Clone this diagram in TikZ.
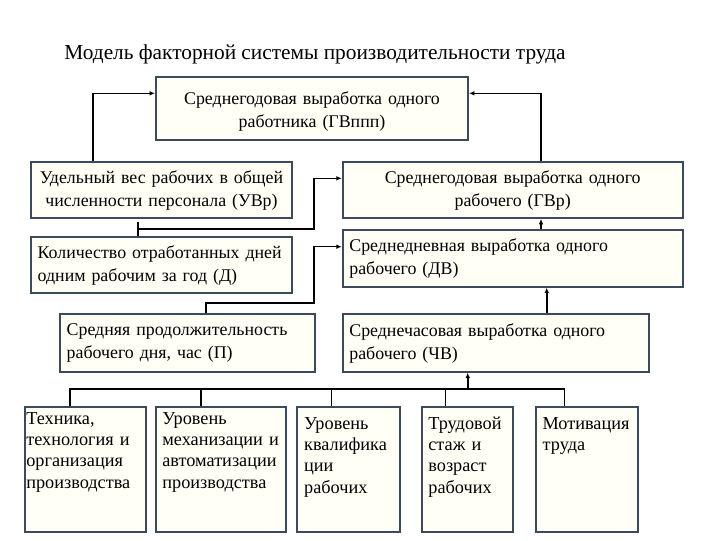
\documentclass[tikz,border=0pt]{standalone}
\usepackage{fontspec}
\setmainfont{LiberationSerif}[Extension=.ttf, UprightFont=*-Regular, BoldFont=*-Bold]
\usetikzlibrary{arrows.meta,calc}
\definecolor{boxline}{RGB}{59,75,92}
\definecolor{boxfill}{RGB}{255,255,246}
\begin{document}
\begin{tikzpicture}[x=0.75pt, y=-0.75pt, >={Latex[length=4pt,width=3.5pt]},
  box/.style={draw=boxline, fill=boxfill, line width=1.5pt, inner xsep=5pt, inner ysep=2pt, font=\fontsize{13.4}{17.25}\selectfont},
  factor/.style={box, anchor=north, align=left, inner ysep=3pt, text height=10pt, text depth=78pt, font=\fontsize{13.7}{16.1}\selectfont},
  link/.style={line width=1pt},
  main link/.style={line width=1.5pt}]
\useasboundingbox (0,0) rectangle (720,540);
\node at (315, 54) (title) {\fontsize{16}{22}\selectfont Модель факторной системы производительности труда};
\node[box, text width=224pt, align=center, minimum height=47.5pt, text height=14pt] at (312, 108.3) (gvppp) {Среднегодовая выработка одного\\работника (ГВппп)};
\node[box, text width=185.75pt, align=center, minimum height=42.2pt, text height=11pt] at (161.5, 189.8) (uvr) {Удельный вес рабочих в общей\\численности персонала (УВр)};
\node[box, text width=245pt, align=center, minimum height=42.2pt, text height=11pt] at (512.7, 189.8) (gvr) {Среднегодовая выработка одного\\рабочего (ГВр)};
\node[box, text width=185.75pt, align=left, minimum height=42pt] at (161.5, 265) (days) {Количество отработанных дней\\одним рабочим за год (Д)};
\node[box, text width=245pt, align=left, minimum height=42.5pt] at (512.7, 258.3) (dv) {Среднедневная выработка одного\\рабочего (ДВ)};
\node[box, text width=181.25pt, align=left, minimum height=43pt] at (187.5, 343) (hours) {Средняя продолжительность\\рабочего дня, час (П)};
\node[box, text width=220pt, align=left, minimum height=43pt] at (496, 343) (chv) {Среднечасовая выработка одного\\рабочего (ЧВ)};
\node[factor, inner xsep=1pt, text width=88.5pt] at (85.3, 405.7) (tech) {Техника,\\технология и\\организация\\производства};
\node[factor, text width=87.5pt] at (220.7, 405.7) (mech) {Уровень\\механизации и\\автоматизации\\производства};
\node[factor, text width=66.9pt, text height=13.75pt, text depth=74.25pt] at (348.75, 405.7) (qual) {Уровень\\квалифика\\ции\\рабочих};
\node[factor, text width=58.25pt, text height=13.75pt, text depth=74.25pt] at (467.2, 405.7) (stage) {Трудовой\\стаж и\\возраст\\рабочих};
\node[factor, text width=66.5pt, text height=13.75pt, text depth=74.25pt] at (587, 405.7) (motiv) {Мотивация\\труда};
\draw[->, link] ($(uvr.north)+(-68.5,0)$) |- ($(gvppp.west)+(0,-15)$);
\draw[->, link] ($(gvr.north)+(28.3,0)$) |- ($(gvppp.east)+(0,-15)$);
\draw[->, link] ($(days.north)+(-23.5,0)$) -- ++(0,-14) ++(0,7) -- ++(176,0) |- ($(gvr.west)+(0,-11.5)$);
\draw[->, link] ($(hours.north)+(18.5,0)$) -- ++(0,-10.3) -- ++(108,0) |- ($(dv.west)+(0,-11.6)$);
\draw[->, link] ($(dv.north)+(28.3,0)$) -- ($(gvr.south)+(28.3,0)$);
\draw[->, main link] ($(chv.north)+(50.7,0)$) -- ($(dv.south)+(34,0)$);
\coordinate (bus) at (467.7, 389);
\draw[->, main link] (bus) -- (bus |- chv.south);
\draw[link] ($(tech.north)+(-15.3,0)$) |- (bus);
\draw[link] ($(mech.north)+(-19.7,0)$) |- (bus);
\draw[link] ($(qual.north)+(-17,0)$) |- (bus);
\draw[link] ($(stage.north)+(-21.5,0)$) |- (bus);
\draw[link] ($(motiv.north)+(-22.7,0)$) |- (bus);
\end{tikzpicture}
\end{document}
